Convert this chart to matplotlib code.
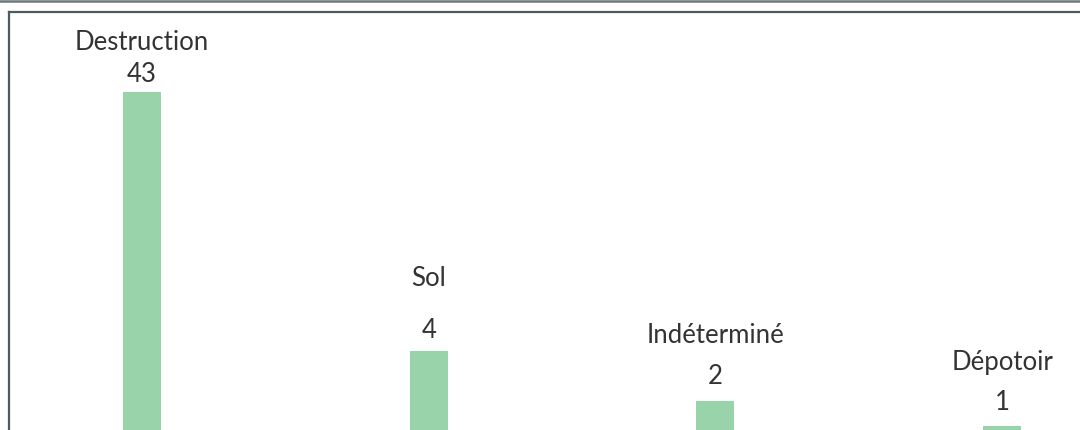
import numpy as np
import matplotlib
matplotlib.use("Agg")
import matplotlib.pyplot as plt
from matplotlib.lines import Line2D

# data
categories = ["Destruction", "Sol", "Indéterminé", "Dépotoir"]
counts = [43, 4, 2, 1]

bar_color = "#98d3aa"
text_color = "#333333"
frame_color = "#4d5b60"

# label lift above each bar top, in points (the original is not regular)
num_lift = [12.5, 15, 18, 17]
name_lift = [35, 52.5, 47.5, 45.5]

plt.rcParams['font.family'] = ['Lato', 'DejaVu Sans']

fig = plt.figure(figsize=(10.8, 4.3), dpi=100)
# the chart is cropped: axes goes past the right and bottom edges
ax = fig.add_axes([9 / 1080, -21 / 430, 1086 / 1080, 439.5 / 430])

x = np.arange(len(categories))
ax.bar(x, counts, width=0.133, color=bar_color, zorder=2)

ax.set_yscale("symlog", linthresh=4, linscale=0.357)
ax.set_ylim(0, 89.4)
ax.set_xlim(-0.464, 3.324)

for i, (xi, v, name) in enumerate(zip(x, counts, categories)):
    ax.annotate(str(v), (xi, v), xytext=(0, num_lift[i]), textcoords="offset points",
                ha="center", va="center", fontsize=18.5, color=text_color)
    ax.annotate(name, (xi, v), xytext=(0, name_lift[i]), textcoords="offset points",
                ha="center", va="center", fontsize=18.5, color=text_color)

ax.set_xticks([])
ax.set_yticks([])
ax.minorticks_off()
for s in ax.spines.values():
    s.set_color(frame_color)
    s.set_linewidth(1.6)

# grey strip at the very top of the crop
fig.add_artist(Line2D([0, 1], [1 - 1 / 430, 1 - 1 / 430], color="#6b777b", linewidth=1.8))

fig.savefig("out.png", dpi=100)
